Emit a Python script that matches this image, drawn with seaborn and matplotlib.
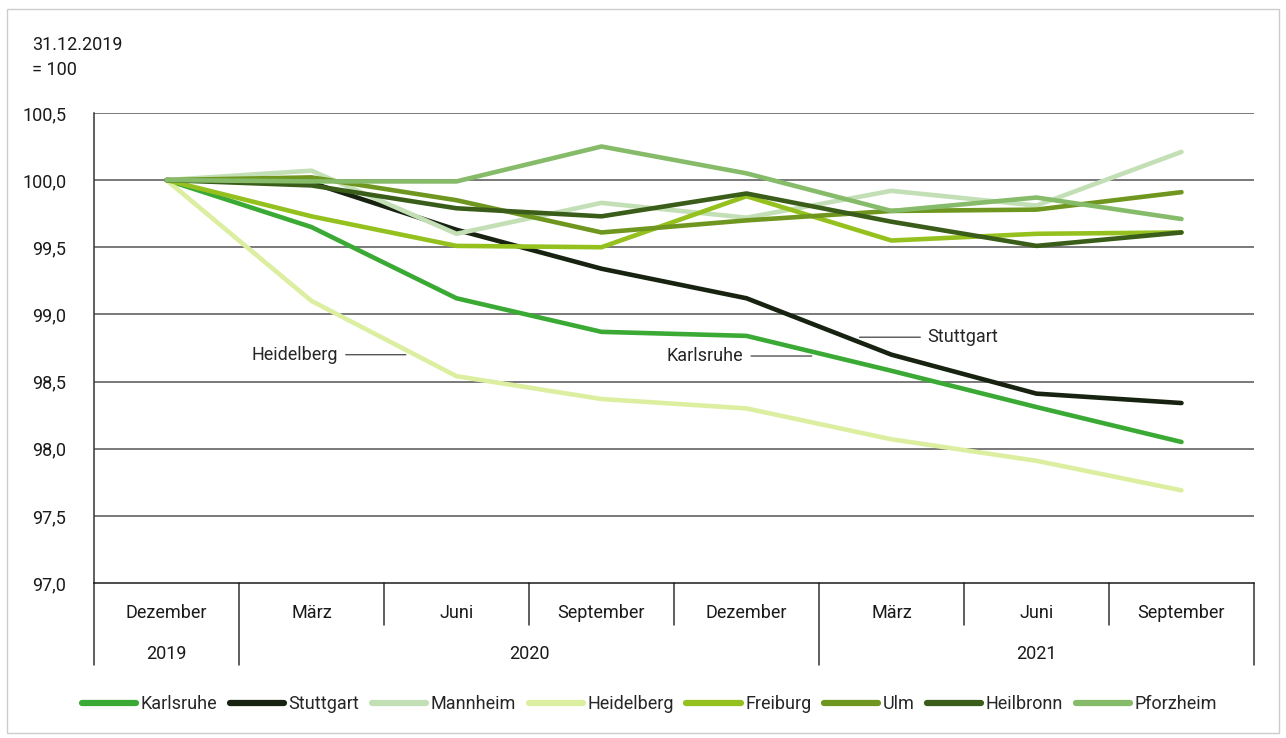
import pandas as pd
import numpy as np
import matplotlib
matplotlib.use('Agg')
import matplotlib.pyplot as plt
import matplotlib.transforms as mtransforms
from matplotlib.patches import Rectangle
from matplotlib.lines import Line2D
import seaborn as sns

months = ['Dezember', 'März', 'Juni', 'September', 'Dezember', 'März', 'Juni', 'September']
years = ['2019', '2020', '2021']
year_pos = [0, 2.5, 6]

karlsruhe = [100.0, 99.65, 99.12, 98.87, 98.84, 98.58, 98.31, 98.05]
stuttgart = [100.0, 99.98, 99.63, 99.34, 99.12, 98.70, 98.41, 98.34]
mannheim = [100.0, 100.07, 99.60, 99.83, 99.72, 99.92, 99.81, 100.21]
heidelberg = [100.0, 99.10, 98.54, 98.37, 98.30, 98.07, 97.91, 97.69]
freiburg = [100.0, 99.73, 99.51, 99.50, 99.88, 99.55, 99.60, 99.61]
ulm = [100.0, 100.02, 99.85, 99.61, 99.70, 99.77, 99.78, 99.91]
heilbronn = [100.0, 99.96, 99.79, 99.73, 99.90, 99.69, 99.51, 99.61]
pforzheim = [100.0, 99.99, 99.99, 100.25, 100.05, 99.77, 99.87, 99.71]

cities = ['Karlsruhe', 'Stuttgart', 'Mannheim', 'Heidelberg', 'Freiburg', 'Ulm', 'Heilbronn', 'Pforzheim']
series = [karlsruhe, stuttgart, mannheim, heidelberg, freiburg, ulm, heilbronn, pforzheim]
colors = ['#3aaa35', '#172211', '#c3dfb6', '#dcefa0', '#95c11f', '#6f961e', '#3a5d19', '#86bb6a']

rows = []
for c, vals in zip(cities, series):
    for i, v in enumerate(vals):
        rows.append({'Stadt': c, 'pos': i, 'wert': v})
df = pd.DataFrame(rows)

sns.set_style('white')
plt.rcParams['font.family'] = ['Roboto', 'DejaVu Sans']
fs = 13

fig = plt.figure(figsize=(12.86, 7.38), dpi=100)
ax = fig.add_axes([0.0731, 0.210, 0.902, 0.637])

sns.lineplot(data=df, x='pos', y='wert', hue='Stadt', hue_order=cities,
             palette=dict(zip(cities, colors)), lw=3.3, legend=False, ax=ax,
             solid_capstyle='round')

ax.set_xlim(-0.5, 7.5)
ax.set_ylim(97.0, 100.5)
yt = np.arange(97.0, 100.51, 0.5)
ax.set_yticks(yt, labels=[f'{v:.1f}'.replace('.', ',') for v in yt])
ax.tick_params(axis='y', length=0, pad=20, labelsize=fs, colors='#1a1a1a')
ax.set_xticks(range(8), labels=months)
ax.tick_params(axis='x', length=0, pad=15, labelsize=fs, colors='#1a1a1a')
ax.set_xlabel('')
ax.set_ylabel('')
for y in yt[1:]:
    ax.axhline(y, color='#555555', lw=1.1, zorder=0)

for s in ['top', 'right']:
    ax.spines[s].set_visible(False)
ax.spines['left'].set_color('#333333')
ax.spines['bottom'].set_color('#1a1a1a')
ax.spines['left'].set_linewidth(1.1)
ax.spines['bottom'].set_linewidth(1.1)

# Trennlinien unter der Achse
long_sep = [-0.5, 0.5, 4.5, 7.5]
for k in range(9):
    x = k - 0.5
    ymin = -0.174 if x in long_sep else -0.089
    ax.axvline(x, ymin=ymin, ymax=0, color='#333333', lw=1.1, clip_on=False)

trans = mtransforms.blended_transform_factory(ax.transData, ax.transAxes)
for yr, xp in zip(years, year_pos):
    ax.text(xp, -0.151, yr, transform=trans, ha='center', va='center', fontsize=fs, color='#1a1a1a')

arrow = dict(arrowstyle='-', color='#555555', lw=1, shrinkA=3, shrinkB=0)
ax.annotate('Heidelberg', xy=(1.65, 98.70), xytext=(1.185, 98.70), ha='right', va='center',
            fontsize=fs, arrowprops=arrow)
ax.annotate('Karlsruhe', xy=(4.45, 98.69), xytext=(3.98, 98.69), ha='right', va='center',
            fontsize=fs, arrowprops=arrow)
ax.annotate('Stuttgart', xy=(4.78, 98.83), xytext=(5.25, 98.83), ha='left', va='center',
            fontsize=fs, arrowprops=arrow)

fig.text(32 / 1286, 1 - 45 / 738, '31.12.2019', ha='left', va='center', fontsize=fs, color='#1a1a1a')
fig.text(32 / 1286, 1 - 70 / 738, '= 100', ha='left', va='center', fontsize=fs, color='#1a1a1a')

handles = [Line2D([], [], color=c, lw=4.5, solid_capstyle='round') for c in colors]
fig.legend(handles, cities, loc='center', bbox_to_anchor=(0.505, 1 - 704 / 738), ncol=8,
           frameon=False, handlelength=3.0, handletextpad=0.25, columnspacing=0.7, fontsize=fs)

fig.patches.append(Rectangle((7 / 1286, 5 / 738), 1 - 14 / 1286, 1 - 14 / 738, transform=fig.transFigure,
                             fill=False, edgecolor='#cccccc', lw=1))

fig.savefig('out.png', dpi=100)
